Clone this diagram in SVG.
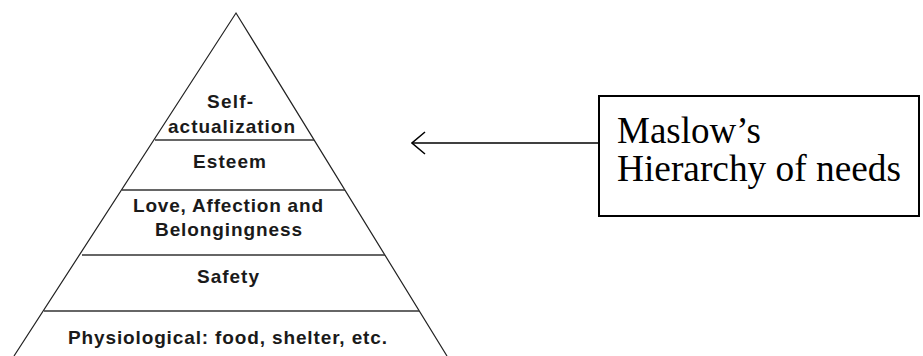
<svg xmlns="http://www.w3.org/2000/svg" width="923" height="356" viewBox="0 0 923 356">
<style>
.side{stroke:#222;stroke-width:1.2;fill:none}
.tier{stroke:#333;stroke-width:1.6}
.lbl{font-family:"Liberation Sans",Arial,sans-serif;font-weight:bold;font-size:19px;fill:#1a1a1a;text-anchor:start}
.cap{font-family:"Liberation Serif","Times New Roman",serif;font-size:37px;fill:#000}
</style>
<defs>
<marker id="open" viewBox="0 0 16 24" refX="15" refY="12" markerWidth="16" markerHeight="24" markerUnits="userSpaceOnUse" orient="auto">
<path d="M2,1 L15,12 L2,23" fill="none" stroke="#000" stroke-width="1.5"/>
</marker>
</defs>
<rect width="923" height="356" fill="#fff"/>
<g id="pyramid">
<polyline class="side" points="14,356 236,13 447,356"/>
<line class="tier" x1="155" y1="140" x2="314" y2="140"/>
<line class="tier" x1="122" y1="190" x2="345" y2="190"/>
<line class="tier" x1="82" y1="255" x2="385" y2="255"/>
<line class="tier" x1="44" y1="311" x2="419" y2="311"/>
</g>
<g id="self-actualization">
<text class="lbl" x="207" y="108" textLength="46" lengthAdjust="spacing">Self-</text>
<text class="lbl" x="168" y="133" textLength="127" lengthAdjust="spacing">actualization</text>
</g>
<g id="esteem">
<text class="lbl" x="193" y="168" textLength="73" lengthAdjust="spacing">Esteem</text>
</g>
<g id="love">
<text class="lbl" x="133" y="212" textLength="190" lengthAdjust="spacing">Love, Affection and</text>
<text class="lbl" x="155" y="236" textLength="147" lengthAdjust="spacing">Belongingness</text>
</g>
<g id="safety">
<text class="lbl" x="197" y="283" textLength="62" lengthAdjust="spacing">Safety</text>
</g>
<g id="physiological">
<text class="lbl" x="68" y="344" textLength="319" lengthAdjust="spacing">Physiological: food, shelter, etc.</text>
</g>
<g id="label-box">
<rect x="599" y="96" width="320" height="120" fill="#fff" stroke="#000" stroke-width="2"/>
<text class="cap" x="617" y="143">Maslow’s</text>
<text class="cap" x="617" y="181" textLength="284" lengthAdjust="spacingAndGlyphs">Hierarchy of needs</text>
</g>
<g id="connectors">
<line x1="598" y1="143" x2="412" y2="143" stroke="#000" stroke-width="1.5" marker-end="url(#open)"/>
</g>
</svg>
